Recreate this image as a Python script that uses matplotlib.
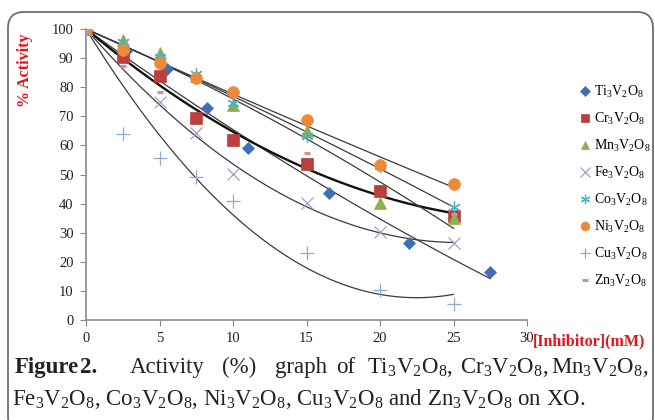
import numpy as np
import matplotlib
matplotlib.use("Agg")
import matplotlib.pyplot as plt
from matplotlib.patches import FancyBboxPatch

plt.rcParams["font.family"] = ["Liberation Serif", "DejaVu Serif"]
plt.rcParams["mathtext.fontset"] = "custom"
plt.rcParams["mathtext.rm"] = "Liberation Serif"
plt.rcParams["mathtext.it"] = "Liberation Serif:italic"
plt.rcParams["mathtext.bf"] = "Liberation Serif:bold"

# data
ti_x = [0, 2.75, 5.5, 8.25, 11, 16.5, 22, 27.5]
ti_y = [100, 92.5, 86.3, 73, 59, 43.6, 26.4, 16.5]
cr_x = [0, 2.5, 5, 7.5, 10, 15, 20, 25]
cr_y = [100, 90.5, 84, 69.5, 62, 53.7, 44.2, 35.7]
mn_x = [0, 2.5, 5, 7.5, 10, 15, 20, 25]
mn_y = [100, 96.3, 91.7, 84, 74, 64.8, 40.3, 35.2]
fe_x = [0, 5, 7.5, 10, 15, 20, 25]
fe_y = [100, 75, 64.3, 50.2, 40.3, 30.3, 26.3]
co_x = [0, 2.5, 5, 7.5, 10, 15, 20, 25]
co_y = [100, 95.5, 90.5, 84.5, 74.6, 63.2, 53, 38.8]
ni_x = [0, 2.5, 5, 7.5, 10, 15, 20, 25]
ni_y = [100, 92.8, 88.4, 83.2, 78.2, 68.8, 53.2, 46.6]
cu_x = [0, 2.5, 5, 7.5, 10, 15, 20, 25]
cu_y = [100, 64, 55.5, 49.3, 41, 23, 10.4, 5.6]
zn_x = [0, 2.5, 5, 15, 25]
zn_y = [100, 87.3, 78.2, 57.4, 36.5]

names = ["Ti", "Cr", "Mn", "Fe", "Co", "Ni", "Cu", "Zn"]
xs = [ti_x, cr_x, mn_x, fe_x, co_x, ni_x, cu_x, zn_x]
ys = [ti_y, cr_y, mn_y, fe_y, co_y, ni_y, cu_y, zn_y]
colors = ["#3f6fb3", "#b8403d", "#8fb04e", "#a99bc8", "#4bb0c8", "#ec8a3a", "#8fa8d2", "#d98c8c"]
markers = ["D", "s", "^", "x", (6, 2, 0), "o", "+", "_"]
sizes = [6.5, 8, 8.5, 9, 9, 8.5, 10, 5]
mews = [0.5, 0.5, 0.5, 0.9, 0.9, 0.5, 0.9, 2.2]
trend = [True, True, True, True, True, True, True, False]

fig = plt.figure(figsize=(6.55, 4.2), dpi=100)

# background / frame axes in pixel coordinates
bg = fig.add_axes([0, 0, 1, 1])
bg.set_xlim(0, 655)
bg.set_ylim(420, 0)
bg.axis("off")
bg.add_patch(FancyBboxPatch((8, 12), 645, 420, boxstyle="round,pad=0,rounding_size=16",
                            fc="white", ec="#6e6e6e", lw=1.3, clip_on=False))

ax = fig.add_axes([86 / 655, 1 - 320 / 420, 441 / 655, 291 / 420])
ax.patch.set_alpha(0)

for i in range(len(names)):
    x = np.array(xs[i], float)
    y = np.array(ys[i], float)
    if trend[i]:
        # quadratic trend line with intercept fixed at 100
        A = np.column_stack([x, x ** 2])
        coef = np.linalg.lstsq(A, y - 100, rcond=None)[0]
        xx = np.linspace(0, x.max(), 200)
        lw = 1.7 if names[i] == "Cr" else 0.9
        lc = "#111111" if names[i] == "Cr" else "#3a3a3a"
        ax.plot(xx, 100 + coef[0] * xx + coef[1] * xx ** 2, color=lc, lw=lw, zorder=1)
    ax.plot(x, y, ls="none", marker=markers[i], ms=sizes[i], color=colors[i],
            mec=colors[i], mew=mews[i], zorder=3,
            label=names[i] + r"$_3$V$_2$O$_8$")

ax.set_xlim(0, 30)
ax.set_ylim(0, 100)
ax.set_xticks(range(0, 31, 5))
ax.set_yticks(range(0, 101, 10))
for s in ["top", "right"]:
    ax.spines[s].set_visible(False)
for s in ["left", "bottom"]:
    ax.spines[s].set_color("#8a8a8a")
    ax.spines[s].set_linewidth(1.2)
ax.tick_params(direction="out", length=4, color="#8a8a8a", labelsize=10.5,
               labelcolor="#222222", pad=5)

ax.legend(loc="upper left", bbox_to_anchor=(574 / 655, 1 - 77 / 420),
          bbox_transform=fig.transFigure, frameon=False, fontsize=10,
          markerscale=0.75, handlelength=0.6, handletextpad=0.35,
          labelspacing=0.78, borderpad=0)

red = "#e3141b"
bg.text(25, 70, "% Activity", rotation=90, ha="center", va="center",
        color=red, fontweight="bold", fontsize=11.5)
bg.text(533, 341, "[Inhibitor](mM)", ha="left", va="center",
        color=red, fontweight="bold", fontsize=11.5)

# caption, first line spread out like justified text
cap = 16.5
bg.text(15, 373, "Figure", fontweight="bold", fontsize=cap, va="baseline", color="#222222")
bg.text(80, 373, "2.", fontweight="bold", fontsize=cap, va="baseline", color="#222222")
words = ["Activity", "(%)", "graph", "of", r"Ti$_3$V$_2$O$_8$,", r"Cr$_3$V$_2$O$_8$,",
         r"Mn$_3$V$_2$O$_8$,"]
wx = [130, 222, 275, 336, 367, 460, 551]
for w, x0 in zip(words, wx):
    bg.text(x0, 373, w, fontsize=cap, va="baseline", color="#222222")
bg.text(12, 405, r"Fe$_3$V$_2$O$_8$, Co$_3$V$_2$O$_8$, Ni$_3$V$_2$O$_8$, "
        r"Cu$_3$V$_2$O$_8$ and Zn$_3$V$_2$O$_8$ on XO.",
        fontsize=cap, va="baseline", color="#222222")

fig.savefig("out.png", dpi=100)
